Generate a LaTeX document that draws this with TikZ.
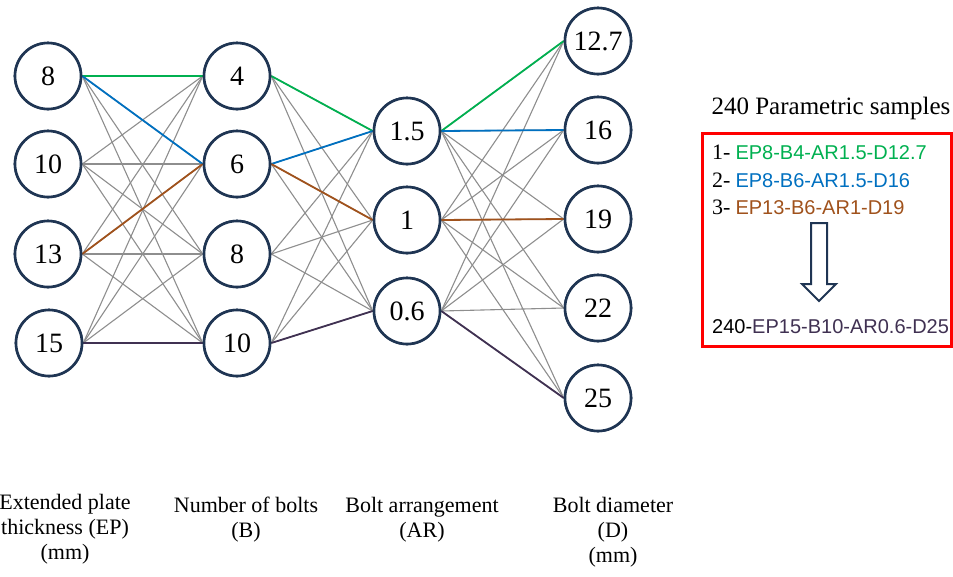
\documentclass[tikz,border=0pt]{standalone}
\usepackage{fontspec}
\setmainfont{Liberation Serif}
\newfontfamily\arialf{Liberation Sans}
\newcommand\idxfont{\fontsize{22}{24}\selectfont}

\definecolor{navy}{HTML}{1F3553}
\definecolor{lgray}{HTML}{8E8E8E}
\definecolor{pgreen}{HTML}{00B050}
\definecolor{pblue}{HTML}{0070C0}
\definecolor{pbrown}{HTML}{A0521C}
\definecolor{ppurple}{HTML}{403152}
\definecolor{bred}{HTML}{FF0000}

\tikzset{
  val/.style={circle, draw=navy, line width=2.6pt, fill=white, minimum size=66pt,
              inner sep=0pt, font=\fontsize{28}{30}\selectfont},
  link/.style={draw=lgray, line width=1.1pt},
  hl/.style={line width=1.8pt},
  axislabel/.style={align=center, inner sep=0pt, font=\fontsize{22}{25}\selectfont},
  sample/.style={anchor=west, inner sep=0pt, font=\fontsize{20}{24}\selectfont},
}

\begin{document}
\begin{tikzpicture}[x=1pt, y=-1pt]
\useasboundingbox (0,0) rectangle (953,576);

% parameter values
\node[val] (e8)  at (48,76)  {8};
\node[val] (e10) at (48,164) {10};
\node[val] (e13) at (48,254) {13};
\node[val] (e15) at (49,343) {15};

\node[val] (b4)  at (237,76)  {4};
\node[val] (b6)  at (237,164) {6};
\node[val] (b8)  at (237,254) {8};
\node[val] (b10) at (237,343) {10};

\node[val] (a15) at (407,131) {1.5};
\node[val] (a1)  at (407,220) {1};
\node[val] (a06) at (407,311) {0.6};

\node[val] (d127) at (598,41)  {12.7};
\node[val] (d16)  at (598,130) {16};
\node[val] (d19)  at (598,219) {19};
\node[val] (d22)  at (598,308) {22};
\node[val] (d25)  at (598,398) {25};

% all combinations
\foreach \s in {e8,e10,e13,e15}
  \foreach \t in {b4,b6,b8,b10}
    \draw[link] (\s.east) -- (\t.west);
\foreach \s in {b4,b6,b8,b10}
  \foreach \t in {a15,a1,a06}
    \draw[link] (\s.east) -- (\t.west);
\foreach \s in {a15,a1,a06}
  \foreach \t in {d127,d16,d19,d22,d25}
    \draw[link] (\s.east) -- (\t.west);

% highlighted samples
\draw[hl, pgreen] (e8.east) -- (b4.west);
\draw[hl, pgreen] (b4.east) -- (a15.west);
\draw[hl, pgreen] (a15.east) -- (d127.west);

\draw[hl, pblue] (e8.east) -- (b6.west);
\draw[hl, pblue] (b6.east) -- (a15.west);
\draw[hl, pblue] (a15.east) -- (d16.west);

\draw[hl, pbrown] (e13.east) -- (b6.west);
\draw[hl, pbrown] (b6.east) -- (a1.west);
\draw[hl, pbrown] (a1.east) -- (d19.west);

\draw[hl, ppurple] (e15.east) -- (b10.west);
\draw[hl, ppurple] (b10.east) -- (a06.west);
\draw[hl, ppurple] (a06.east) -- (d25.west);

% redraw circles above the links
\foreach \n/\v in {e8/8,e10/10,e13/13,e15/15,b4/4,b6/6,b8/8,b10/10,
                   a15/1.5,a1/1,a06/0.6,d127/12.7,d16/16,d19/19,d22/22,d25/25}
  \node[val] at (\n) {\v};

% axis captions
\node[axislabel] (lep) at (65,529) {Extended plate\\thickness (EP)\\(mm)};
\node[axislabel] (lb)  at (246,520) {Number of bolts\\(B)};
\node[axislabel] (lar) at (422,520) {Bolt arrangement\\(AR)};
\node[axislabel] (ld)  at (613,532) {Bolt diameter\\(D)\\(mm)};

% sample list
\node[font=\fontsize{25}{28}\selectfont, inner sep=0pt] (title) at (831,108) {240 Parametric samples};
\draw[bred, line width=3pt] (702,133) rectangle (951.5,346);
\node[sample] (s1) at (712,152) {{\idxfont 1-} {\arialf\color{pgreen}EP8-B4-AR1.5-D12.7}};
\node[sample] (s2) at (712,180) {{\idxfont 2-} {\arialf\color{pblue}EP8-B6-AR1.5-D16}};
\node[sample] (s3) at (712,207) {{\idxfont 3-} {\arialf\color{pbrown}EP13-B6-AR1-D19}};
\node[sample] (s240) at (712,327) {\arialf 240-{\color{ppurple}EP15-B10-AR0.6-D25}};

% hollow down arrow
\draw[navy, line width=2pt, fill=white, line join=miter]
  (811,223) -- (827,223) -- (827,284) -- (836,284) -- (819,301)
  -- (802,284) -- (811,284) -- cycle;
\end{tikzpicture}
\end{document}
